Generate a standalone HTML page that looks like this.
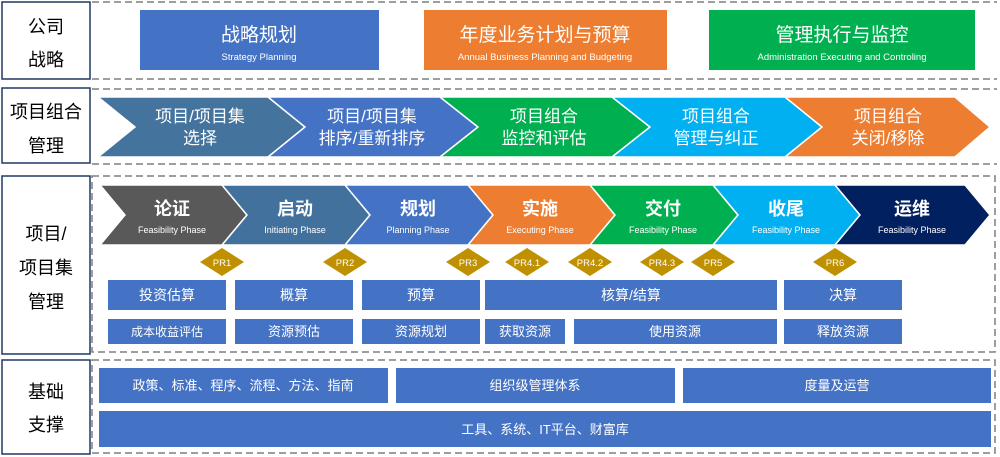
<!DOCTYPE html>
<html><head><meta charset="utf-8"><style>
body{margin:0;background:#fff}
svg{display:block;font-family:"Liberation Sans","Noto Sans CJK SC",sans-serif}
</style></head><body>
<svg width="1000" height="457" viewBox="0 0 1000 457" xmlns="http://www.w3.org/2000/svg">
<g fill="none" stroke="#7f7f7f" stroke-width="1.5" stroke-dasharray="7,4">
<line x1="92" y1="2" x2="997" y2="2"/><line x1="92" y1="79" x2="997" y2="79"/>
<line x1="92" y1="89" x2="997" y2="89"/><line x1="92" y1="164" x2="997" y2="164"/>
<rect x="92" y="176" width="903" height="176"/>
<rect x="92" y="360" width="903" height="93"/>
</g>
<g fill="#fff" stroke="#1f3864" stroke-width="1.5">
<rect x="2" y="2" width="88" height="77"/><rect x="2" y="88" width="88" height="75"/>
<rect x="2" y="176" width="88" height="178"/><rect x="2" y="360" width="88" height="94"/>
</g>
<g font-size="18" fill="#000" text-anchor="middle">
<text x="46" y="33">公司</text><text x="46" y="66">战略</text>
<text x="46" y="118">项目组合</text><text x="46" y="152">管理</text>
<text x="46" y="240">项目/</text><text x="46" y="274">项目集</text><text x="46" y="308">管理</text>
<text x="46" y="398">基础</text><text x="46" y="431">支撑</text>
</g>
<rect x="140" y="10" width="239" height="60" fill="#4472c4"/>
<rect x="424" y="10" width="243" height="60" fill="#ed7d31"/>
<rect x="709" y="10" width="266" height="60" fill="#00b050"/>
<g fill="#fff" text-anchor="middle">
<text x="259" y="41" font-size="19">战略规划</text><text x="259" y="60" font-size="9.5">Strategy Planning</text>
<text x="545" y="41" font-size="19">年度业务计划与预算</text><text x="545" y="60" font-size="9.5">Annual Business Planning and Budgeting</text>
<text x="842" y="41" font-size="19">管理执行与监控</text><text x="842" y="60" font-size="9.5">Administration Executing and Controling</text>
</g>
<g stroke="#fff" stroke-width="1.5">
<polygon points="98,97 268,97 305,127 268,157 98,157 135,127" fill="#44739e"/>
<polygon points="268,97 440,97 478,127 440,157 268,157 305,127" fill="#4472c4"/>
<polygon points="440,97 612,97 650,127 612,157 440,157 478,127" fill="#00b050"/>
<polygon points="612,97 785,97 822,127 785,157 612,157 650,127" fill="#00b0f0"/>
<polygon points="785,97 955,97 990,127 955,157 785,157 822,127" fill="#ed7d31"/>
</g>
<g fill="#fff" text-anchor="middle" font-size="17">
<text x="200" y="122">项目/项目集</text><text x="200" y="144">选择</text>
<text x="372" y="122">项目/项目集</text><text x="372" y="144">排序/重新排序</text>
<text x="544" y="122">项目组合</text><text x="544" y="144">监控和评估</text>
<text x="716" y="122">项目组合</text><text x="716" y="144">管理与纠正</text>
<text x="888" y="122">项目组合</text><text x="888" y="144">关闭/移除</text>
</g>
<g stroke="#fff" stroke-width="1.5">
<polygon points="100,185 222,185 247,215 222,245 100,245 125,215" fill="#595959"/>
<polygon points="222,185 345,185 370,215 345,245 222,245 247,215" fill="#41719c"/>
<polygon points="345,185 468,185 493,215 468,245 345,245 370,215" fill="#4472c4"/>
<polygon points="468,185 590,185 615,215 590,245 468,245 493,215" fill="#ed7d31"/>
<polygon points="590,185 713,185 738,215 713,245 590,245 615,215" fill="#00b050"/>
<polygon points="713,185 835,185 860,215 835,245 713,245 738,215" fill="#00b0f0"/>
<polygon points="835,185 965,185 990,215 965,245 835,245 860,215" fill="#002060"/>
</g>
<g fill="#fff" text-anchor="middle">
<g font-size="18" font-weight="bold">
<text x="172" y="215">论证</text><text x="295" y="215">启动</text><text x="418" y="215">规划</text>
<text x="540" y="215">实施</text><text x="663" y="215">交付</text><text x="786" y="215">收尾</text><text x="912" y="215">运维</text>
</g>
<g font-size="9">
<text x="172" y="233">Feasibility Phase</text><text x="295" y="233">Initiating Phase</text><text x="418" y="233">Planning Phase</text>
<text x="540" y="233">Executing Phase</text><text x="663" y="233">Feasibility Phase</text><text x="786" y="233">Feasibility Phase</text><text x="912" y="233">Feasibility Phase</text>
</g>
</g>
<g fill="#bf9000">
<polygon points="200,262 222,248 244,262 222,276"/>
<polygon points="323,262 345,248 367,262 345,276"/>
<polygon points="446,262 468,248 490,262 468,276"/>
<polygon points="505,262 527,248 549,262 527,276"/>
<polygon points="568,262 590,248 612,262 590,276"/>
<polygon points="640,262 662,248 684,262 662,276"/>
<polygon points="691,262 713,248 735,262 713,276"/>
<polygon points="813,262 835,248 857,262 835,276"/>
</g>
<g fill="#fff" font-size="9.5" text-anchor="middle">
<text x="222" y="266">PR1</text><text x="345" y="266">PR2</text><text x="468" y="266">PR3</text><text x="527" y="266">PR4.1</text>
<text x="590" y="266">PR4.2</text><text x="662" y="266">PR4.3</text><text x="713" y="266">PR5</text><text x="835" y="266">PR6</text>
</g>
<g fill="#4472c4">
<rect x="108" y="280" width="118" height="30"/><rect x="235" y="280" width="118" height="30"/><rect x="362" y="280" width="118" height="30"/>
<rect x="485" y="280" width="292" height="30"/><rect x="784" y="280" width="118" height="30"/>
<rect x="108" y="319" width="118" height="25"/><rect x="235" y="319" width="118" height="25"/><rect x="362" y="319" width="118" height="25"/>
<rect x="485" y="319" width="80" height="25"/><rect x="574" y="319" width="203" height="25"/><rect x="784" y="319" width="118" height="25"/>
<rect x="99" y="368" width="289" height="35"/><rect x="396" y="368" width="279" height="35"/><rect x="683" y="368" width="308" height="35"/>
<rect x="99" y="411" width="892" height="36"/>
</g>
<g fill="#fff" text-anchor="middle">
<g font-size="14">
<text x="167" y="300">投资估算</text><text x="294" y="300">概算</text><text x="421" y="300">预算</text><text x="631" y="300">核算/结算</text><text x="843" y="300">决算</text>
</g>
<g font-size="13">
<text x="167" y="336" font-size="12">成本收益评估</text><text x="294" y="336">资源预估</text><text x="421" y="336">资源规划</text>
<text x="525" y="336">获取资源</text><text x="675" y="336">使用资源</text><text x="843" y="336">释放资源</text>
<text x="243" y="390">政策、标准、程序、流程、方法、指南</text><text x="535" y="390">组织级管理体系</text><text x="837" y="390">度量及运营</text>
<text x="545" y="434">工具、系统、IT平台、财富库</text>
</g>
</g>
</svg>
</body></html>
